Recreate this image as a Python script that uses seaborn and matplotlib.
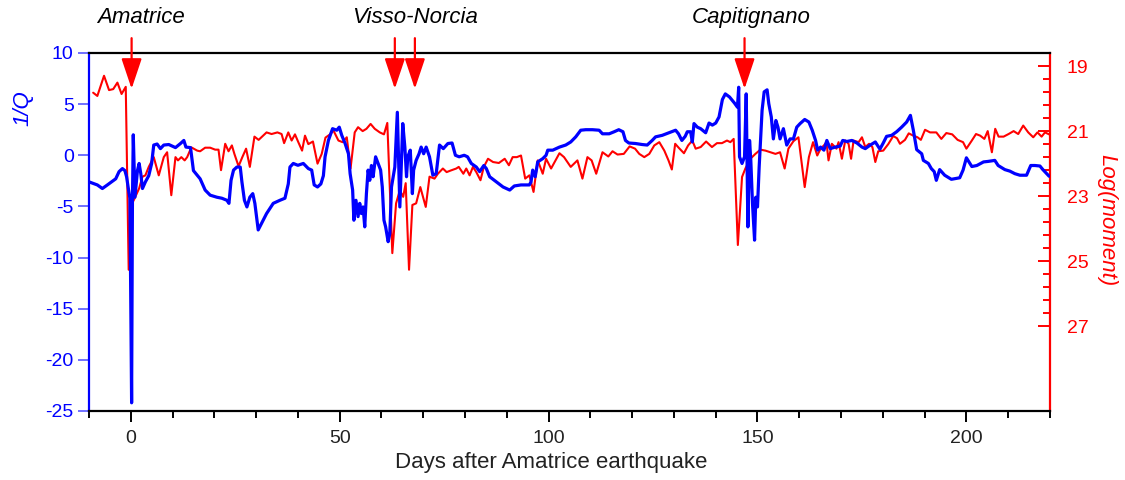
import numpy as np
import matplotlib
matplotlib.use("Agg")
import matplotlib.pyplot as plt
from matplotlib.ticker import MultipleLocator, FixedLocator
import matplotlib.transforms as mtransforms
import seaborn as sns

# 1/Q series (blue), days after Amatrice earthquake
q_days = [-10.0, -8.0, -6.8, -5.6, -3.6, -2.8, -2.0, -1.4, -1.0, -0.6, -0.2, 0.2, 0.4, 0.6, 1.0,
          1.6, 2.0, 2.4, 2.8, 3.5, 4.3, 5.0, 5.5, 6.3, 7.1, 7.9, 9.1, 10.7, 11.9, 12.7, 13.2, 14.3,
          15.0, 16.6, 17.8, 19.0, 20.6, 21.8, 23.0, 23.5, 24.0, 24.6, 25.4, 26.2, 26.6, 27.2, 27.8,
          28.5, 29.2, 29.7, 30.5, 31.7, 32.5, 34.1, 35.7, 36.9, 37.7, 38.1, 38.9, 40.0, 41.3, 42.5,
          43.3, 43.9, 44.7, 45.5, 46.1, 46.5, 47.3, 48.3, 49.3, 49.9, 50.5, 51.3, 52.1, 52.5, 53.1,
          53.4, 53.9, 54.4, 54.8, 55.2, 55.6, 56.0, 56.4, 56.8, 57.2, 57.6, 58.0, 58.6, 59.2, 59.8,
          60.2, 60.6, 61.0, 61.6, 62.0, 62.4, 63.2, 63.8, 64.1, 64.4, 64.8, 65.1, 65.6, 66.0, 66.3,
          66.9, 67.4, 67.7, 68.3, 69.0, 69.5, 70.1, 70.7, 71.5, 72.3, 73.1, 73.9, 74.8, 75.9, 76.9,
          77.7, 78.6, 79.8, 80.6, 81.5, 82.7, 83.5, 84.5, 85.1, 85.9, 87.5, 89.1, 90.7, 91.8, 93.4,
          95.4, 95.8, 96.2, 96.8, 97.4, 98.6, 99.4, 99.8, 101.0, 102.6, 104.1, 105.3, 106.5, 107.7,
          108.9, 110.5, 112.1, 112.9, 114.5, 115.7, 116.8, 117.8, 118.4, 119.2, 120.8, 122.4, 123.6,
          124.8, 125.6, 127.2, 128.8, 130.4, 131.1, 131.9, 132.7, 133.2, 134.0, 134.4, 134.8, 135.6,
          136.4, 137.6, 138.4, 139.2, 140.0, 140.8, 141.6, 142.3, 143.3, 144.5, 145.2, 145.5, 145.7,
          146.3, 146.9, 147.3, 147.7, 148.1, 148.4, 148.8, 149.3, 149.6, 150.0, 150.4, 151.1, 151.6,
          152.3, 152.7, 153.3, 153.8, 154.4, 154.9, 155.4, 156.2, 157.0, 157.8, 158.6, 159.4, 160.2,
          161.3, 162.3, 163.1, 163.9, 164.4, 165.1, 165.9, 166.6, 167.4, 168.6, 169.8, 170.4, 171.4,
          172.6, 173.8, 175.0, 175.8, 177.0, 178.2, 179.3, 180.1, 180.9, 182.1, 183.3, 184.5, 185.7,
          186.6, 187.3, 188.1, 189.3, 189.7, 190.9, 191.6, 192.3, 192.8, 193.6, 194.8, 196.4, 198.4,
          199.2, 200.0, 201.3, 202.5, 204.1, 205.2, 206.8, 207.6, 209.2, 210.4, 211.6, 212.8, 214.4,
          215.4, 216.4, 217.6, 218.3, 219.8]
inv_q = [-2.6, -2.9, -3.25, -2.9, -2.3, -1.6, -1.3, -1.5, -2.1, -3.2, -4.2, -24.2, -4.5, 2.0, -4.1,
         -1.5, -0.8, -1.8, -3.25, -2.6, -2.0, -0.8, 1.0, 1.1, 0.65, 1.0, 1.05, 0.75, 1.15, 1.45, 0.8, 0.75,
         -1.5, -2.3, -3.4, -3.9, -4.1, -4.2, -4.4, -4.7, -2.45, -1.45, -1.15, -1.15, -2.6, -4.4, -5.05,
         -4.1, -3.75, -4.7, -7.3, -6.35, -5.7, -4.7, -4.4, -4.2, -2.8, -1.15, -0.8, -0.98, -0.8, -1.3,
         -1.45, -2.9, -3.1, -2.8, -2.0, -0.15, 1.45, 2.6, 2.45, 2.75, 1.95, 1.15, 0.15, -1.8, -3.4,
         -6.35, -4.4, -6.0, -4.7, -5.7, -5.05, -7.0, -3.75, -1.45, -2.45, -1.0, -2.1, -0.15, -0.8, -1.45,
         -3.1, -6.35, -7.0, -8.45, -7.65, -3.1, -1.15, 4.2, -0.5, -5.05, -0.5, 3.1, 0.8, -2.1, -0.15,
         0.5, -3.75, -1.45, -0.5, 0.15, 0.8, 0.15, 0.8, -0.15, -1.95, -1.8, 1.0, 0.65, 1.15, 1.2,
         0.0, -0.15, 0.0, -0.15, -0.8, -1.15, -1.6, -1.0, -1.3, -2.1, -2.6, -3.1, -3.4, -3.0, -2.9,
         -2.9, -2.6, -1.45, -2.1, -0.65, -0.33, 0.0, 0.5, 0.5, 0.8, 1.0, 1.3, 1.8, 2.45,
         2.5, 2.5, 2.45, 2.1, 2.1, 2.3, 2.5, 2.3, 1.45, 1.2, 1.15, 1.05, 1.0,
         1.45, 1.8, 1.95, 2.2, 2.45, 2.1, 1.45, 1.85, 2.3, 2.3, 1.3, 3.1, 2.75,
         2.6, 2.2, 3.15, 2.95, 3.15, 3.75, 5.45, 6.0, 5.7, 5.1, 4.7, 6.65, -0.15,
         -0.8, -0.15, 6.0, -7.0, 1.45, -0.5, -4.7, -8.3, -4.1, -5.05, -1.15, 4.4, 6.2,
         6.4, 5.05, 3.75, 1.6, 3.4, 2.75, 1.6, 2.6, 1.0, 1.6, 1.6, 2.75, 3.1,
         3.5, 3.25, 2.45, 1.45, 0.5, 0.8, 0.5, 1.45, 0.65, 0.8, 0.9, 1.45, 1.35,
         1.45, 1.2, 0.8, 0.65, 1.0, 1.3, 0.6, 1.2, 1.85, 1.95, 2.3, 2.75, 3.25,
         3.9, 2.45, 0.55, 0.15, -0.5, -0.8, -1.3, -1.6, -2.45, -1.4, -1.95, -2.35, -2.2,
         -1.45, -0.25, -1.1, -1.0, -0.65, -0.6, -0.5, -1.0, -1.4, -1.55, -1.8, -1.95, -1.95,
         -1.0, -1.0, -1.05, -1.4, -2.05]

# Log(moment) series (red)
m_days = [-9.0, -8.0, -6.4, -5.2, -4.2, -3.2, -2.2, -1.2, -0.5, 0.0, 0.8, 2.0, 2.8, 3.5, 4.3, 5.5,
          6.7, 7.9, 8.7, 9.7, 10.7, 11.3, 12.1, 12.9, 13.5, 14.5, 15.9, 16.6, 17.8, 19.0, 20.2, 21.0,
          21.6, 22.6, 23.4, 24.2, 24.8, 25.8, 26.7, 27.6, 28.5, 29.6, 30.6, 32.5, 33.7, 35.1, 36.1,
          36.7, 37.7, 38.5, 39.3, 40.1, 41.0, 41.7, 42.5, 43.6, 44.7, 45.7, 46.6, 47.7, 48.5, 49.7,
          50.7, 51.7, 52.6, 53.6, 54.4, 55.5, 56.4, 57.4, 58.4, 59.6, 60.6, 61.4, 62.0, 62.6, 63.5,
          64.4, 65.2, 65.8, 66.6, 67.4, 68.3, 69.3, 70.6, 71.5, 72.7, 73.5, 74.7, 75.6, 76.6, 77.9,
          78.5, 79.6, 80.3, 81.1, 81.9, 82.7, 83.7, 84.5, 85.5, 86.7, 88.1, 89.5, 90.5, 91.4, 92.4,
          93.4, 94.4, 95.4, 96.4, 97.4, 98.6, 99.4, 100.6, 102.6, 103.7, 105.3, 106.9, 108.1, 109.3,
          110.3, 111.4, 112.9, 114.3, 115.3, 116.5, 118.0, 119.4, 120.7, 121.7, 122.9, 124.1, 125.3,
          126.5, 127.7, 128.7, 129.5, 130.3, 131.2, 132.4, 133.4, 134.4, 135.2, 136.4, 137.7, 139.1,
          140.3, 141.5, 142.7, 143.5, 144.3, 145.3, 146.3, 147.1, 148.3, 149.5, 150.7, 151.9, 153.1,
          154.3, 155.4, 156.5, 157.4, 158.6, 159.8, 161.3, 162.3, 163.3, 164.3, 165.1, 165.9, 166.5,
          167.0, 167.8, 168.9, 169.4, 170.2, 171.0, 171.8, 172.4, 173.0, 174.2, 175.0, 175.8, 176.7,
          177.5, 178.2, 178.9, 180.1, 181.3, 182.5, 183.4, 184.1, 185.3, 186.2, 187.3, 188.3, 189.1,
          190.1, 191.3, 192.8, 194.0, 195.2, 196.6, 197.9, 199.2, 200.0, 201.3, 202.3, 203.3, 204.3,
          205.1, 206.1, 206.9, 207.7, 208.9, 210.1, 211.3, 212.4, 213.6, 214.8, 216.0, 217.0, 218.0,
          218.8, 219.8]
log_moment = [19.82, 19.92, 19.3, 19.74, 19.71, 19.51, 19.86, 19.64, 25.26, 23.3, 23.1, 22.76, 22.4,
              22.36, 22.1, 21.8, 22.36, 21.8, 21.65, 22.97, 21.8, 21.9, 21.8, 21.9, 21.8, 21.5, 21.6,
              21.62, 21.51, 21.51, 21.57, 21.57, 22.2, 21.39, 21.62, 21.44, 21.7, 22.08, 21.8, 21.54,
              22.1, 21.17, 21.27, 21.04, 21.09, 21.04, 21.09, 21.37, 21.04, 21.29, 21.1, 21.34, 21.6,
              21.14, 21.4, 21.32, 22.0, 21.7, 21.2, 21.1, 20.98, 21.29, 21.34, 21.19, 22.15, 21.04,
              20.88, 21.0, 20.93, 20.78, 20.93, 21.04, 21.1, 20.75, 22.72, 24.75, 23.22, 22.82, 23.02,
              22.6, 25.26, 23.27, 23.22, 22.72, 23.33, 22.4, 22.46, 22.31, 22.15, 22.26, 22.21, 22.15,
              22.1, 22.31, 22.15, 22.36, 22.1, 22.26, 22.51, 22.1, 21.85, 21.95, 21.98, 21.85, 22.05,
              21.8, 21.8, 21.75, 22.46, 22.36, 22.87, 21.9, 22.31, 21.85, 22.15, 21.68, 21.8, 22.1,
              21.9, 22.46, 21.8, 21.9, 22.31, 21.65, 21.78, 21.62, 21.72, 21.7, 21.47, 21.54, 21.7,
              21.8, 21.7, 21.44, 21.34, 21.6, 21.9, 22.18, 21.39, 21.52, 21.68, 21.44, 21.29, 21.54,
              21.49, 21.32, 21.49, 21.37, 21.37, 21.29, 21.34, 21.24, 24.5, 22.41, 22.15, 21.85, 21.7,
              21.57, 21.6, 21.65, 21.7, 21.65, 22.15, 21.54, 21.31, 21.19, 22.72, 21.8, 21.34, 21.75,
              21.54, 21.44, 21.34, 21.9, 21.39, 21.54, 21.34, 21.85, 21.29, 21.39, 21.85, 21.29, 21.34,
              21.19, 21.49, 21.39, 21.49, 21.95, 21.62, 21.6, 21.4, 21.15, 21.22, 21.39, 21.27, 21.07,
              21.14, 21.19, 21.27, 20.96, 21.04, 21.04, 21.24, 21.06, 21.1, 21.27, 21.34, 21.54, 21.29,
              21.09, 21.14, 21.24, 21.0, 21.65, 20.93, 21.17, 21.17, 21.09, 21.0, 21.09, 20.83, 21.04,
              21.19, 21.04, 21.17, 21.04, 21.1]

# earthquakes marked with arrows
event_days = [0.2, 63.2, 68.0, 146.9]
label_names = ["Amatrice", "Visso-Norcia", "Capitignano"]
label_days = [2.5, 68.0, 148.5]

sns.set_style("ticks")
plt.rcParams["font.family"] = ["Liberation Sans", "DejaVu Sans"]
plt.rcParams["axes.unicode_minus"] = False

fig, ax = plt.subplots(figsize=(11.25, 4.8), dpi=100)
fig.subplots_adjust(left=0.0791, right=0.9333, bottom=0.1438, top=0.8896)
ax2 = ax.twinx()

sns.lineplot(x=m_days, y=log_moment, ax=ax2, color="#ff0000", linewidth=1.5,
             estimator=None, sort=False)
sns.lineplot(x=q_days, y=inv_q, ax=ax, color="#0000ff", linewidth=2.3,
             estimator=None, sort=False)

ax.set_zorder(ax2.get_zorder() + 1)
ax.patch.set_visible(False)

ax.set_xlim(-10, 220)
ax.set_ylim(-25, 10)
ax2.set_ylim(29.6, 18.6)

# spines
for s in ["top", "bottom"]:
    ax.spines[s].set_color("black")
    ax.spines[s].set_linewidth(1.6)
ax.spines["left"].set_color("#0000ff")
ax.spines["left"].set_linewidth(1.6)
ax.spines["right"].set_visible(False)
for s in ["top", "bottom", "left"]:
    ax2.spines[s].set_visible(False)
ax2.spines["right"].set_color("#ff0000")
ax2.spines["right"].set_linewidth(1.6)

# x axis
ax.xaxis.set_major_locator(MultipleLocator(50))
ax.xaxis.set_minor_locator(MultipleLocator(10))
ax.tick_params(axis="x", which="major", direction="out", length=8, width=1.4,
               color="black", labelcolor="#222222", labelsize=14, pad=6)
ax.tick_params(axis="x", which="minor", direction="out", length=5, width=1.4, color="black")
ax.set_xlabel("Days after Amatrice earthquake", fontsize=16, color="#222222", va="top")
ax.xaxis.set_label_coords(0.481, -0.115)

# left y axis
ax.yaxis.set_major_locator(MultipleLocator(5))
ax.tick_params(axis="y", which="major", direction="out", length=8, width=1.4,
               color="#7070ff", labelcolor="#0000ff", labelsize=14, pad=3)
ax.set_ylabel("1/Q", fontsize=16, color="#0000ff", style="italic")
ax.yaxis.set_label_coords(-0.058, 0.846)

# right y axis
ax2.yaxis.set_major_locator(FixedLocator([19, 21, 23, 25, 27]))
ax2.yaxis.set_minor_locator(FixedLocator(np.arange(19, 27.01, 0.4)))
ax2.tick_params(axis="y", which="major", direction="in", length=9, width=1.4,
                color="#ff0000", labelcolor="#ff0000", labelsize=14, pad=12)
ax2.tick_params(axis="y", which="minor", direction="in", length=5, width=1.4, color="#ff0000")
ax2.set_ylabel("Log(moment)", fontsize=16, color="#ff0000", style="italic", rotation=270)
ax2.yaxis.set_label_coords(1.07, 0.533)

# event arrows and names
for d in event_days:
    ax.annotate("", xy=(d, 6.5), xytext=(d, 11.45), annotation_clip=False,
                arrowprops=dict(arrowstyle="-|>,head_length=1.25,head_width=0.42",
                                mutation_scale=15, color="#ff0000", lw=1.6,
                                shrinkA=0, shrinkB=0))

trans = mtransforms.blended_transform_factory(ax.transData, ax.transAxes)
for name, d in zip(label_names, label_days):
    ax.text(d, 1.098, name, transform=trans, ha="center", va="center",
            fontsize=16, style="italic", color="black")

fig.savefig("out.png", dpi=100)
